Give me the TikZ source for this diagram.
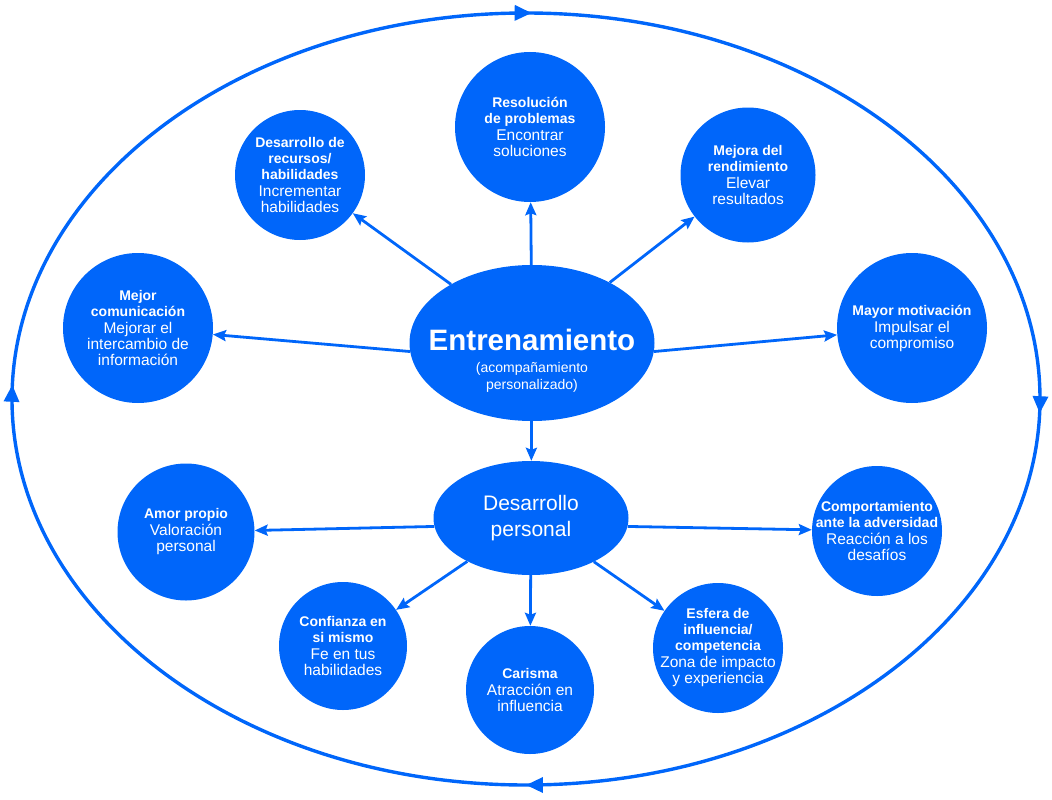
\documentclass[tikz,border=0pt]{standalone}
\usepackage{fontspec}
\setmainfont{Liberation Sans}
\usetikzlibrary{arrows.meta,decorations.markings,shapes.geometric}
\definecolor{cblue}{RGB}{0,102,250}
\newcommand{\tl}[1]{{\bfseries\fontsize{14}{17}\selectfont #1}}
\begin{document}
\begin{tikzpicture}[x=1pt,y=-1pt,
  circ/.style 2 args={circle,fill=cblue,inner sep=0pt,minimum size=#1,
    label={[text=white,align=center,inner sep=0pt,font=\fontsize{15.5}{16}\selectfont]center:{#2}}},
  hub/.style={ellipse,fill=cblue,text=white,align=center,inner sep=0pt},
  conn/.style={draw=cblue,line width=2.8pt,-{Stealth[length=13pt,width=11pt,inset=2pt]}},
  ring/.style={draw=cblue,line width=3.4pt},
  rtip/.tip={Triangle[length=17pt,width=15pt]}
]
\useasboundingbox (0,0) rectangle (1052,800);

% outer ring with clockwise arrows
\draw[ring, postaction={decorate}, decoration={markings,
  mark=at position 0.005 with {\arrow{rtip}},
  mark=at position 0.25 with {\arrow{rtip}},
  mark=at position 0.505 with {\arrow{rtip}},
  mark=at position 0.752 with {\arrow{rtip}}}]
  (526,399) ellipse [x radius=514, y radius=386];

% hubs
\node[hub,minimum width=245pt,minimum height=156pt] (ent) at (532,343) {};
\node[text=white,align=center] (entT) at (532,340)
  {\fontsize{29.5}{31}\selectfont\bfseries Entrenamiento};
\node[text=white,align=center,font=\fontsize{14}{17}\selectfont] (entS) at (532,377)
  {(acompañamiento\\personalizado)};
\node[hub,minimum width=195pt,minimum height=114pt,font=\fontsize{21}{26}\selectfont] (des) at (531,518)
  {Desarrollo\\personal};

% upper circles
\node[circ={150pt}{\tl{Resolución}\\\tl{de problemas}\\[1pt]Encontrar\\soluciones}] (res) at (530,127) {};
\node[circ={130pt}{\tl{Desarrollo de}\\\tl{recursos/}\\\tl{habilidades}\\[1pt]Incrementar\\habilidades}] (rec) at (300,175) {};
\node[circ={135pt}{\tl{Mejora del}\\\tl{rendimiento}\\[1pt]Elevar\\resultados}] (ren) at (748,175) {};
\node[circ={150pt}{\tl{Mejor}\\\tl{comunicación}\\[1pt]Mejorar el\\intercambio de\\información}] (com) at (138,328) {};
\node[circ={150pt}{\tl{Mayor motivación}\\[1pt]Impulsar el\\compromiso}] (mot) at (912,328) {};

% lower circles
\node[circ={137pt}{\tl{Amor propio}\\[1pt]Valoración\\personal}] (amo) at (186,532) {};
\node[circ={130pt}{\tl{Comportamiento}\\\tl{ante la adversidad}\\[1pt]Reacción a los\\desafíos}] (adv) at (877,531) {};
\node[circ={128pt}{\tl{Confianza en}\\\tl{si mismo}\\[1pt]Fe en tus\\habilidades}] (con) at (343,646) {};
\node[circ={128pt}{\tl{Carisma}\\[1pt]Atracción en\\influencia}] (car) at (530,690) {};
\node[circ={130pt}{\tl{Esfera de}\\\tl{influencia/}\\\tl{competencia}\\[1pt]Zona de impacto\\y experiencia}] (esf) at (718,648) {};

% connectors
\draw[conn] (ent) -- (res);
\draw[conn] (ent) -- (rec);
\draw[conn] (ent) -- (ren);
\draw[conn] (ent.184) -- (com);
\draw[conn] (ent.-4) -- (mot);
\draw[conn] (ent) -- (des);
\draw[conn] (des.185) -- (amo);
\draw[conn] (des.-5) -- (adv);
\draw[conn] (des) -- (con);
\draw[conn] (des) -- (car);
\draw[conn] (des) -- (esf);
\end{tikzpicture}
\end{document}
